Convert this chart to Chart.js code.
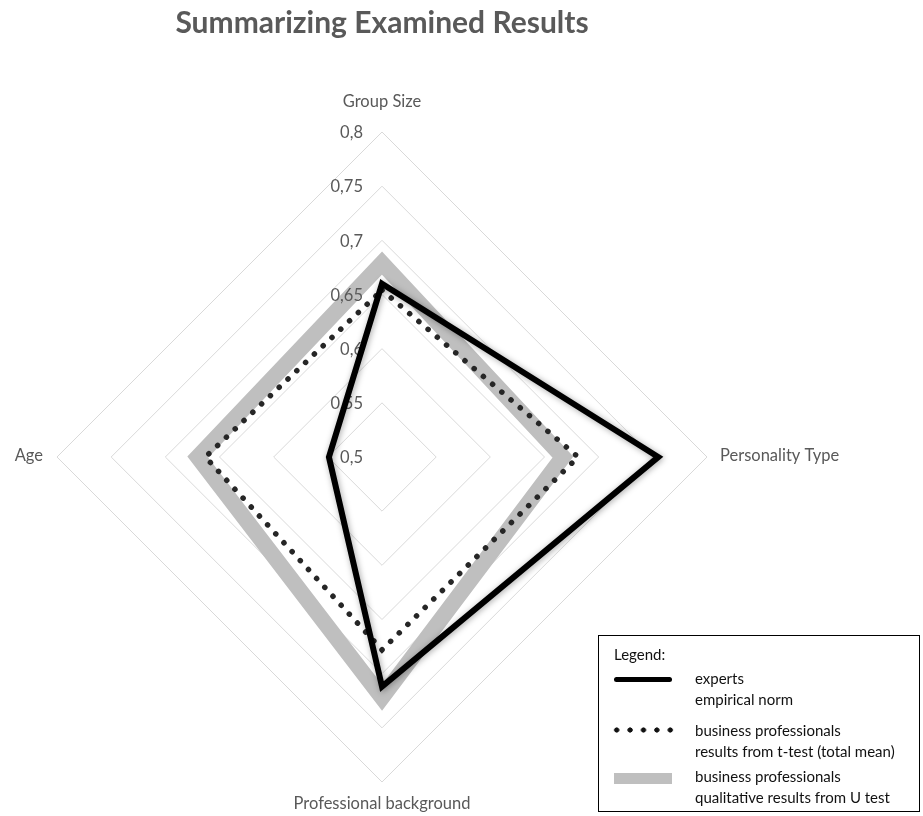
<!DOCTYPE html>
<html>
<head>
<meta charset="utf-8">
<script src="https://cdn.jsdelivr.net/npm/chart.js@4.4.1/dist/chart.umd.min.js"></script>
<style>
body { margin: 0; background: #fff; font-family: Lato, sans-serif; }
#wrap { position: relative; width: 923px; height: 816px; overflow: hidden; }
#radar { position: absolute; left: 0; top: 0; }
#legend { position: absolute; left: 598px; top: 635px; width: 322px; height: 177px; border: 1px solid #000; box-sizing: border-box; font-size: 15px; color: #111; }
#legend .cap { position: absolute; left: 15px; top: 8px; line-height: 21px; }
#legend .txt { position: absolute; left: 96px; line-height: 21px; }
#legend .sw { position: absolute; left: 15px; width: 58px; }
</style>
</head>
<body>
<div id="wrap">
  <canvas id="radar" width="923" height="816"></canvas>
  <div id="legend"></div>
</div>
<script>
// values
const categories = ['Group Size', 'Personality Type', 'Professional background', 'Age'];
const expertsNorm = [0.660, 0.755, 0.712, 0.549];
const tTestMean = [0.654, 0.681, 0.678, 0.663];
const uTestQualitative = [0.679, 0.667, 0.722, 0.670];
const tickValues = [0.5, 0.55, 0.6, 0.65, 0.7, 0.75, 0.8];
const tickLabels = ['0,5', '0,55', '0,6', '0,65', '0,7', '0,75', '0,8'];
const legendTitle = 'Legend:';
const seriesNames = [
    ['experts', 'empirical norm'],
    ['business professionals', 'results from t-test (total mean)'],
    ['business professionals', 'qualitative results from U test']
];

// draws tick labels left of the axis and the category labels, like excel does
const excelLabels = {
    id: 'excelLabels',
    beforeDatasetDraw(chart, args) {
        if (args.index === 0) {
            const ctx = chart.ctx;
            ctx.save();
            ctx.shadowColor = 'rgba(0,0,0,0.35)';
            ctx.shadowBlur = 6;
            ctx.shadowOffsetX = 1;
            ctx.shadowOffsetY = 1;
        }
    },
    afterDatasetDraw(chart, args) {
        const ctx = chart.ctx;
        if (args.index === 0) ctx.restore();
        if (args.index !== 2) return;
        const r = chart.scales.r;
        ctx.save();
        ctx.font = '16.5px Lato';
        ctx.fillStyle = '#595959';
        ctx.textAlign = 'right';
        ctx.textBaseline = 'middle';
        tickValues.forEach((v, i) => {
            const p = r.getPointPositionForValue(0, v);
            ctx.fillText(tickLabels[i], p.x - 19, p.y + 1);
        });
        ctx.restore();
    },
    afterDraw(chart) {
        const r = chart.scales.r;
        const ctx = chart.ctx;
        const extra = [29, 13, 23, 14];
        const aligns = ['center', 'left', 'center', 'right'];
        ctx.save();
        ctx.font = '16.5px Lato';
        ctx.fillStyle = '#595959';
        ctx.textBaseline = 'middle';
        categories.forEach((c, i) => {
            const p = r.getPointPosition(i, r.drawingArea + extra[i]);
            ctx.textAlign = aligns[i];
            ctx.fillText(c, p.x, p.y - 1);
        });
        ctx.restore();
    }
};

const chart = new Chart(document.getElementById('radar'), {
    type: 'radar',
    data: {
        labels: categories,
        datasets: [{
            label: seriesNames[0].join(' '),
            data: expertsNorm,
            borderColor: '#000',
            borderWidth: 6,
            borderJoinStyle: 'miter',
            fill: false,
            pointRadius: 0
        }, {
            label: seriesNames[1].join(' '),
            data: tTestMean,
            borderColor: '#262626',
            borderWidth: 5.5,
            borderDash: [0.1, 12],
            borderCapStyle: 'round',
            fill: false,
            pointRadius: 0
        }, {
            label: seriesNames[2].join(' '),
            data: uTestQualitative,
            borderColor: '#bfbfbf',
            borderWidth: 16,
            borderJoinStyle: 'miter',
            fill: false,
            pointRadius: 0
        }]
    },
    options: {
        responsive: false,
        animation: false,
        devicePixelRatio: 1,
        layout: { padding: { left: 57, right: 216, top: 5, bottom: 34 } },
        scales: {
            r: {
                min: 0.5,
                max: 0.8,
                startAngle: 0,
                ticks: { display: false, stepSize: 0.05 },
                pointLabels: { display: false },
                angleLines: { display: false },
                grid: { color: '#d9d9d9', lineWidth: 1 }
            }
        },
        plugins: {
            legend: { display: false },
            tooltip: { enabled: false },
            title: {
                display: true,
                text: 'Summarizing Examined Results',
                color: '#595959',
                font: { family: 'Lato', size: 30, weight: 'bold' },
                padding: { top: 0, bottom: 91 }
            }
        }
    },
    plugins: [excelLabels]
});

// html legend box
const legend = document.getElementById('legend');
const cap = document.createElement('div');
cap.className = 'cap';
cap.textContent = legendTitle;
legend.appendChild(cap);
const rowTops = [32, 84, 130];
const swatches = [
    'top:41px;height:5px;border-radius:3px;background:#000;',
    'left:11px;width:67px;top:91px;height:6px;background:radial-gradient(circle, #111 2.3px, transparent 2.9px) 0 0/13.4px 6px repeat-x;',
    'top:137px;height:11px;background:#bfbfbf;'
];
seriesNames.forEach((lines, i) => {
    const sw = document.createElement('div');
    sw.className = 'sw';
    sw.style.cssText = swatches[i];
    legend.appendChild(sw);
    const t = document.createElement('div');
    t.className = 'txt';
    t.style.top = rowTops[i] + 'px';
    t.innerHTML = lines.join('<br>');
    legend.appendChild(t);
});
</script>
</body>
</html>
